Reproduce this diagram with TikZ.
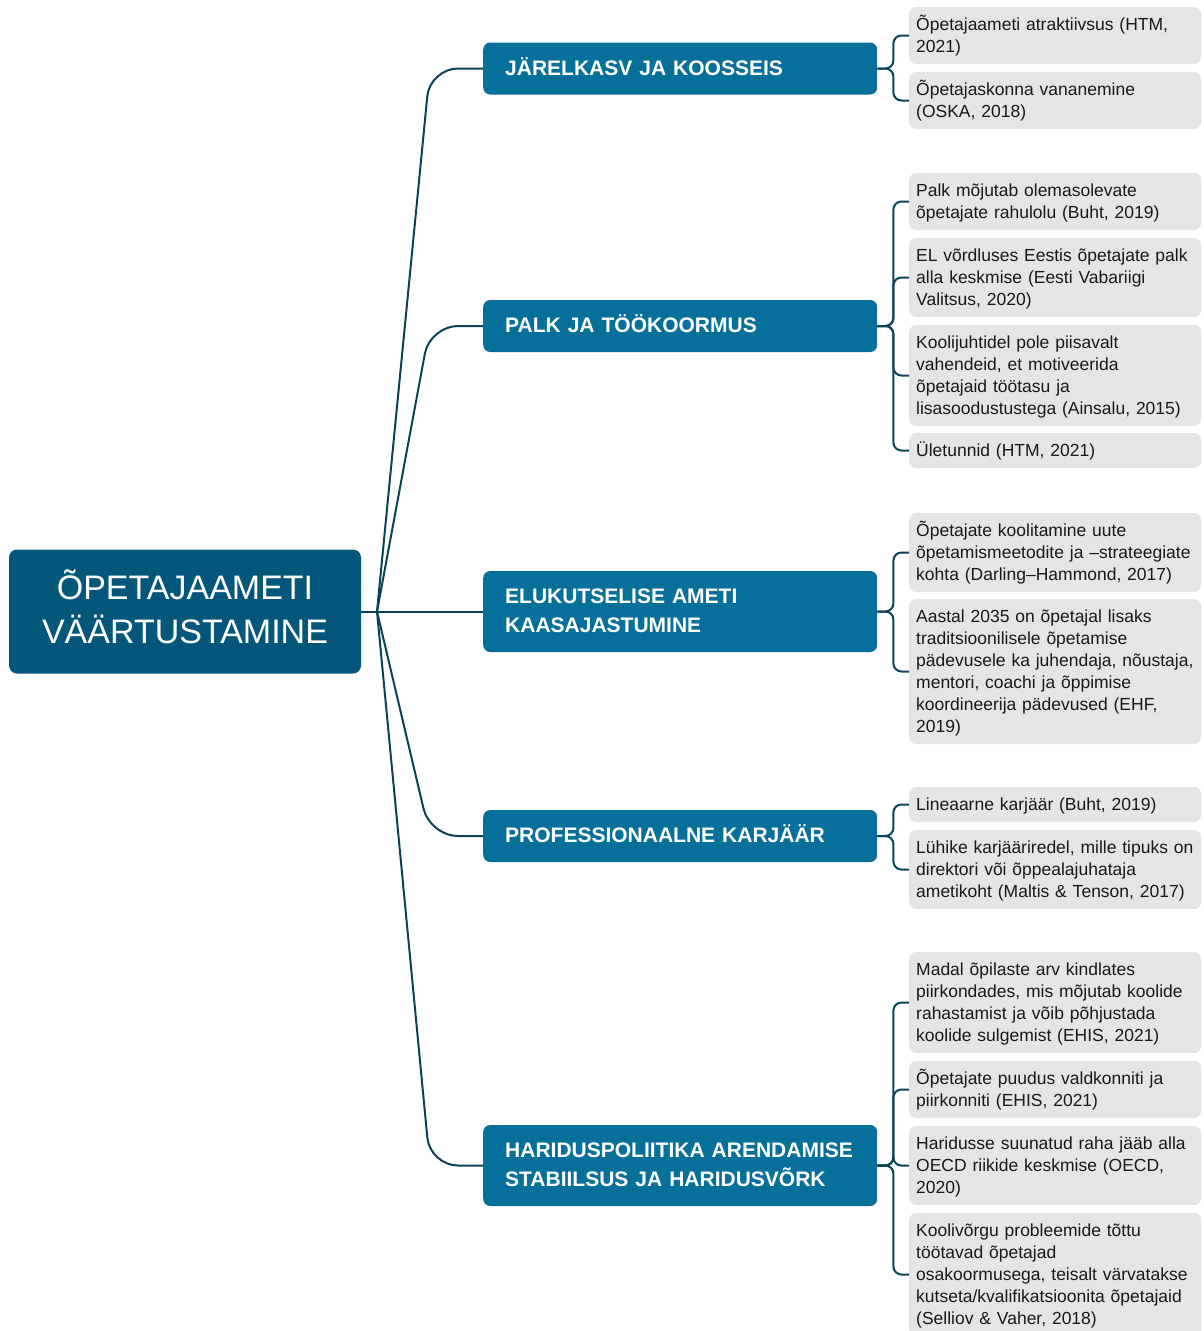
\documentclass[tikz,border=0pt]{standalone}
\usepackage{fontspec}
\setmainfont{Liberation Sans}
\usepackage{xcolor}
\usetikzlibrary{positioning}
\definecolor{rootblue}{HTML}{04577A}
\definecolor{branchblue}{HTML}{06709A}
\definecolor{linkcol}{HTML}{0C4257}
\definecolor{leafgray}{HTML}{E5E5E5}
% invisible struts: top one sets the first line height, bottom one the last line depth
\newcommand{\topstrut}[1]{\rule{0pt}{#1}}
\newcommand{\botstrut}[1]{\rule[-#1]{0pt}{0pt}}

\begin{document}
\begin{tikzpicture}[x=1pt, y=-1pt,
    root/.style={fill=rootblue, text=white, rounded corners=8pt, align=center,
      minimum width=352pt, minimum height=124pt, inner ysep=18pt,
      font=\fontsize{34}{44}\selectfont,
      execute at begin node=\topstrut{34.8pt}, execute at end node=\botstrut{9.2pt}},
    branch/.style={fill=branchblue, text=white, rounded corners=7pt, anchor=west,
      text width=350pt, align=left, inner xsep=22pt, inner ysep=11.5pt,
      font=\fontsize{21}{29}\selectfont\bfseries,
      execute at begin node=\topstrut{21.3pt}, execute at end node=\botstrut{7.7pt}},
    leaf/.style={fill=leafgray, text=black!90, rounded corners=7pt, anchor=west,
      text width=278pt, align=left, inner xsep=7pt, inner ysep=6.5pt,
      font=\fontsize{17.5}{22}\selectfont,
      execute at begin node=\topstrut{16.9pt}, execute at end node=\botstrut{5.1pt}},
    link/.style={draw=linkcol, line width=2pt, rounded corners=28pt},
    tick/.style={draw=linkcol, line width=2pt, rounded corners=8pt}]
  \useasboundingbox (0,0) rectangle (1204,1331);

  % centre
  \node[root] (root) at (185,611.5) {ÕPETAJAAMETI\\VÄÄRTUSTAMINE};
  \coordinate (fan) at (377,611.5);
  \coordinate (knee) at (430,611.5);

  % main themes
  \node[branch] (jarel) at (483,68.5) {JÄRELKASV JA KOOSSEIS};
  \node[branch] (palk) at (483,326) {PALK JA TÖÖKOORMUS};
  \node[branch] (amet) at (483,611.5) {ELUKUTSELISE AMETI\\KAASAJASTUMINE};
  \node[branch] (karj) at (483,836) {PROFESSIONAALNE KARJÄÄR};
  \node[branch] (hari) at (483,1165.5) {HARIDUSPOLIITIKA ARENDAMISE\\STABIILSUS JA HARIDUSVÕRK};

  % sources
  \node[leaf] (l1) at (909,35.5) {Õpetajaameti atraktiivsus (HTM,\\2021)};
  \node[leaf] (l2) at (909,100.5) {Õpetajaskonna vananemine\\(OSKA, 2018)};
  \node[leaf] (l3) at (909,201.5) {Palk mõjutab olemasolevate\\õpetajate rahulolu (Buht, 2019)};
  \node[leaf] (l4) at (909,277.5) {EL võrdluses Eestis õpetajate palk\\alla keskmise (Eesti Vabariigi\\Valitsus, 2020)};
  \node[leaf] (l5) at (909,375.5) {Koolijuhtidel pole piisavalt\\vahendeid, et motiveerida\\õpetajaid töötasu ja\\lisasoodustustega (Ainsalu, 2015)};
  \node[leaf] (l6) at (909,450.5) {Ületunnid (HTM, 2021)};
  \node[leaf] (l7) at (909,552.5) {Õpetajate koolitamine uute\\õpetamismeetodite ja –strateegiate\\kohta (Darling–Hammond, 2017)};
  \node[leaf] (l8) at (909,671.5) {Aastal 2035 on õpetajal lisaks\\traditsioonilisele õpetamise\\pädevusele ka juhendaja, nõustaja,\\mentori, coachi ja õppimise\\koordineerija pädevused (EHF,\\2019)};
  \node[leaf] (l9) at (909,804.5) {Lineaarne karjäär (Buht, 2019)};
  \node[leaf] (l10) at (909,869.5) {Lühike karjääriredel, mille tipuks on\\direktori või õppealajuhataja\\ametikoht (Maltis \& Tenson, 2017)};
  \node[leaf] (l11) at (909,1002.5) {Madal õpilaste arv kindlates\\piirkondades, mis mõjutab koolide\\rahastamist ja võib põhjustada\\koolide sulgemist (EHIS, 2021)};
  \node[leaf] (l12) at (909,1089.5) {Õpetajate puudus valdkonniti ja\\piirkonniti (EHIS, 2021)};
  \node[leaf] (l13) at (909,1165.5) {Haridusse suunatud raha jääb alla\\OECD riikide keskmise (OECD,\\2020)};
  \node[leaf] (l14) at (909,1274.5) {Koolivõrgu probleemide tõttu\\töötavad õpetajad\\osakoormusega, teisalt värvatakse\\kutseta/kvalifikatsioonita õpetajaid\\(Selliov \& Vaher, 2018)};

  % centre to themes
  \draw[link] (root.east) -- (amet.west);
  \foreach \b in {jarel,palk,karj,hari}
    \draw[link] (fan) -- (\b.west -| knee) -- (\b.west);

  % themes to sources
  \foreach \b/\l in {jarel/l1,jarel/l2,palk/l3,palk/l4,palk/l5,palk/l6,
      amet/l7,amet/l8,karj/l9,karj/l10,hari/l11,hari/l12,hari/l13,hari/l14}
    \draw[tick] (\b.east) -- ++(16,0) |- (\l.west);
\end{tikzpicture}
\end{document}
